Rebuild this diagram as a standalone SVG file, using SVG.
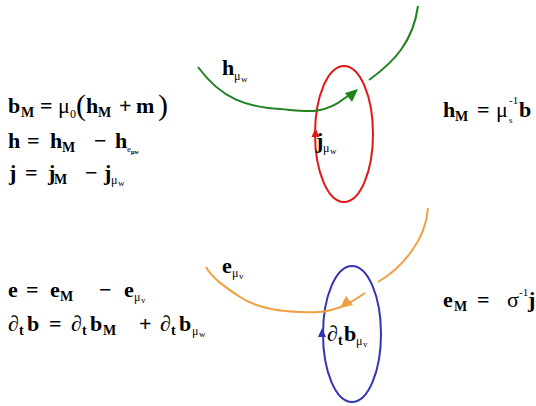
<svg xmlns="http://www.w3.org/2000/svg" width="536" height="406" viewBox="0 0 536 406">
<style>
text{font-family:"Liberation Serif","Times New Roman",serif;font-weight:bold;font-size:22px;fill:#000}
.s{font-size:14px}
.n{font-weight:normal}
.sm{font-size:12px;font-weight:normal}
.xs{font-size:9px;font-weight:normal}
.big{font-size:30px;font-weight:normal}
.c{fill:none;stroke-width:2}
</style>
<rect width="536" height="406" fill="#fff"/>
<g id="eq-left">
<text y="113"><tspan x="8">b</tspan><tspan x="21" y="117" class="s">M</tspan><tspan x="40" y="113">=</tspan><tspan x="58" class="n">μ</tspan><tspan x="70" y="118" class="sm">0</tspan><tspan x="76" y="115" class="big">(</tspan><tspan x="86" y="113">h</tspan><tspan x="98" y="117" class="s">M</tspan><tspan x="119" y="113">+</tspan><tspan x="136">m</tspan><tspan x="158" y="115" class="big">)</tspan></text>
<text y="148"><tspan x="8">h</tspan><tspan x="27">=</tspan><tspan x="50">h</tspan><tspan x="62" y="152" class="s">M</tspan><tspan x="94" y="148">−</tspan><tspan x="115">h</tspan><tspan x="127" y="152" class="xs">e</tspan><tspan x="131" y="154" style="font-size:6px">μw</tspan></text>
<text y="180"><tspan x="9">j</tspan><tspan x="25">=</tspan><tspan x="48">j</tspan><tspan x="54" y="184" class="s">M</tspan><tspan x="85" y="180">−</tspan><tspan x="104">j</tspan><tspan x="111" y="184" class="sm">μ</tspan><tspan x="118" y="186" class="xs">w</tspan></text>
<text y="297"><tspan x="8">e</tspan><tspan x="26">=</tspan><tspan x="50">e</tspan><tspan x="60" y="301" class="s">M</tspan><tspan x="99" y="297">−</tspan><tspan x="124">e</tspan><tspan x="134" y="301" class="sm">μ</tspan><tspan x="141" y="303" class="xs">v</tspan></text>
<text y="331"><tspan x="8" class="n">∂</tspan><tspan x="19" y="335" class="s">t</tspan><tspan x="27" y="331">b</tspan><tspan x="49">=</tspan><tspan x="71" class="n">∂</tspan><tspan x="82" y="335" class="s">t</tspan><tspan x="90" y="331">b</tspan><tspan x="103" y="335" class="s">M</tspan><tspan x="139" y="331">+</tspan><tspan x="160" class="n">∂</tspan><tspan x="171" y="335" class="s">t</tspan><tspan x="179" y="331">b</tspan><tspan x="192" y="335" class="sm">μ</tspan><tspan x="199" y="337" class="xs">w</tspan></text>
</g>
<g id="eq-right">
<text y="117"><tspan x="443">h</tspan><tspan x="455" y="121" class="s">M</tspan><tspan x="477" y="117">=</tspan><tspan x="496" class="n">μ</tspan><tspan x="509" y="123" class="xs">s</tspan><tspan x="509" y="104" style="font-size:11px;font-weight:normal">-1</tspan><tspan x="519" y="117">b</tspan></text>
<text y="307"><tspan x="443">e</tspan><tspan x="454" y="311" class="s">M</tspan><tspan x="477" y="307">=</tspan><tspan x="507" class="n">σ</tspan><tspan x="519" y="296" style="font-size:11px;font-weight:normal">-1</tspan><tspan x="528" y="307">j</tspan></text>
</g>
<g id="loop-j">
<ellipse cx="344" cy="134" rx="29" ry="68" class="c" stroke="#e01818"/>
<polygon points="315.5,128 311.5,137 319.5,137" fill="#e01818"/>
</g>
<g id="loop-b">
<ellipse cx="352" cy="334" rx="29" ry="68" class="c" stroke="#3434b8"/>
<polygon points="322,328 318,337 326,337" fill="#3434b8"/>
</g>
<g id="connectors">
<path class="c" stroke="#1f821f" d="M198,67 C222,100 248,107 280,109 C305,111 322,116 345,98 L352,93"/>
<polygon points="358,89 345,93 352,102" fill="#1f821f"/>
<path class="c" stroke="#1f821f" d="M369,80 C394,62 413,42 418,6"/>
<path class="c" stroke="#f0a040" d="M428,208 C426,240 402,268 378,282"/>
<path class="c" stroke="#f0a040" d="M365,293 C352,302 338,311 318,312 C288,313 258,309 240,297 C225,287 212,278 206,267"/>
<polygon points="340,308 346,296 353,305" fill="#f0a040"/>
</g>
<g id="labels">
<text y="75"><tspan x="222">h</tspan><tspan x="234" y="80" class="sm">μ</tspan><tspan x="241" y="82" class="xs">w</tspan></text>
<text y="148"><tspan x="316">j</tspan><tspan x="323" y="152" class="sm">μ</tspan><tspan x="330" y="154" class="xs">w</tspan></text>
<text y="273"><tspan x="222">e</tspan><tspan x="232" y="277" class="sm">μ</tspan><tspan x="239" y="279" class="xs">v</tspan></text>
<text y="341"><tspan x="327" class="n">∂</tspan><tspan x="338" y="345" class="s">t</tspan><tspan x="344" y="341">b</tspan><tspan x="356" y="345" class="sm">μ</tspan><tspan x="363" y="347" class="xs">v</tspan></text>
</g>
</svg>
